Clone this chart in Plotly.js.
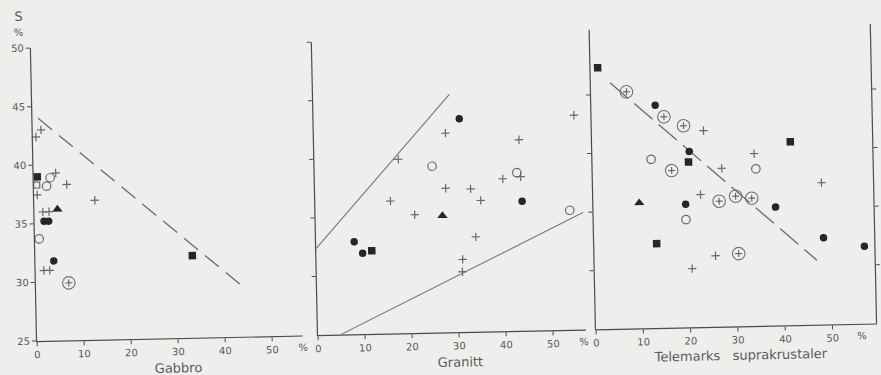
<!DOCTYPE html>
<html>
<head>
<meta charset="utf-8">
<script src="https://cdn.plot.ly/plotly-3.0.1.min.js"></script>
<style>
  html, body { margin: 0; padding: 0; background: #eeeeec; overflow: hidden; }
  #wrap { width: 881px; height: 375px; transform: rotate(-1.2deg); transform-origin: 440.5px 187.5px; }
  #plot { width: 881px; height: 375px; }
  #plot path { shape-rendering: geometricPrecision !important; }
</style>
</head>
<body>
<div id="wrap"><div id="plot"></div></div>
<script>
// ---------- DATA (x = mineral %, y = S %) ----------
// Panel 1: Gabbro
const gabFilledCircleX = [2.0, 3.0, 3.9];
const gabFilledCircleY = [35.2, 35.2, 31.8];
const gabFilledSquareX = [0.75, 33.4];
const gabFilledSquareY = [39.0, 32.0];
const gabTriangleX = [4.9];
const gabTriangleY = [36.2];
const gabOpenCircleX = [2.7, 3.5, 0.9];
const gabOpenCircleY = [38.2, 38.9, 33.7];
const gabOpenSquareX = [0.6];
const gabOpenSquareY = [38.3];
const gabPlusX = [0.65, 1.75, 0.67, 4.7, 7.0, 12.9, 1.8, 3.1, 1.75, 3.0];
const gabPlusY = [42.4, 43.0, 37.45, 39.3, 38.3, 36.9, 36.0, 36.0, 31.0, 31.0];
const gabCircledPlusX = [7.0];
const gabCircledPlusY = [29.9];
const gabDashX = [1.2, 44.8];
const gabDashY = [44.0, 29.0];

// Panel 2: Granitt
const graFilledCircleX = [31.0, 44.0, 8.1, 9.85];
const graFilledCircleY = [43.2, 36.05, 32.9, 31.9];
const graFilledSquareX = [11.8];
const graFilledSquareY = [32.1];
const graTriangleX = [27.0];
const graTriangleY = [34.96];
const graOpenCircleX = [25.0, 43.0, 54.1];
const graOpenCircleY = [39.2, 38.5, 35.2];
const graPlusX = [28.0, 43.6, 55.4, 17.85, 43.8, 40.0, 27.8, 33.1, 16.0, 35.2, 21.1, 34.0, 31.1, 31.0];
const graPlusY = [42.0, 41.3, 43.3, 39.85, 38.15, 38.0, 37.3, 37.2, 36.3, 36.2, 35.1, 33.1, 31.2, 30.15];
const graUpperLineX = [0, 29.0];
const graUpperLineY = [32.4, 45.3];
const graLowerLineX = [4.8, 57.0];
const graLowerLineY = [25.0, 35.0];

// Panel 3: Telemarks suprakrustaler
const telFilledCircleX = [13.5, 20.5, 19.5, 38.5, 48.5, 57.1];
const telFilledCircleY = [44.0, 40.0, 35.5, 35.1, 32.4, 31.6];
const telFilledSquareX = [1.5, 41.9, 20.3, 13.2];
const telFilledSquareY = [47.3, 40.65, 39.1, 32.2];
const telTriangleX = [9.7];
const telTriangleY = [35.7];
const telOpenCircleX = [12.4, 34.5, 19.5];
const telOpenCircleY = [39.4, 38.4, 34.2];
const telPlusX = [23.6, 34.2, 27.3, 48.3, 22.7, 25.6, 20.6];
const telPlusY = [41.75, 39.7, 38.5, 37.1, 36.3, 31.06, 30.0];
const telCircledPlusX = [7.5, 15.3, 19.4, 16.7, 30.1, 33.5, 26.6, 30.5];
const telCircledPlusY = [45.2, 43.0, 42.2, 38.4, 36.1, 35.9, 35.7, 31.2];
const telDashX = [4.05, 47.0];
const telDashY = [46.0, 30.5];

// Axis labels
const xTickVals = [0, 10, 20, 30, 40, 50];
const yTickVals = [25, 30, 35, 40, 45, 50];
const panelTitles = ["Gabbro", "Granitt", "Telemarks\u00a0\u00a0\u00a0suprakrustaler"];

// ---------- STYLES ----------
const BG = '#eeeeec';
const INK = '#262626';
const GREY = '#5a5a5a';
const FONT = 'DejaVu Sans, sans-serif';

function pts(x, y, xa, ya, kind) {
  const base = {x: x, y: y, xaxis: xa, yaxis: ya, mode: 'markers', type: 'scatter',
                hoverinfo: 'skip', showlegend: false, cliponaxis: false};
  const styles = {
    fc: {symbol: 'circle', size: 7.5, color: INK, line: {width: 0}},
    fs: {symbol: 'square', size: 7.5, color: INK, line: {width: 0}},
    tr: {symbol: 'triangle-up', size: 9, color: INK, line: {width: 0}},
    oc: {symbol: 'circle-open', size: 8.5, color: '#6a6a6a', line: {width: 1.2, color: '#6a6a6a'}},
    os: {symbol: 'square-open', size: 6, color: '#6a6a6a', line: {width: 1.2, color: '#6a6a6a'}},
    pl: {symbol: 'cross-thin-open', size: 6, color: '#666666', line: {width: 1.2, color: '#666666'}},
    cr: {symbol: 'circle-open', size: 12.5, color: '#707070', line: {width: 1.1, color: '#707070'}},
    cp: {symbol: 'cross-thin-open', size: 5, color: '#606060', line: {width: 1.1, color: '#606060'}}
  };
  base.marker = styles[kind];
  return base;
}
function line(x, y, xa, ya, dash, color, width) {
  return {x: x, y: y, xaxis: xa, yaxis: ya, mode: 'lines', type: 'scatter',
          hoverinfo: 'skip', showlegend: false, cliponaxis: false,
          line: {color: color, width: width, dash: dash}};
}

const traces = [
  // Gabbro
  line(gabDashX, gabDashY, 'x', 'y', '18px,9px', '#6a6a6a', 1.3),
  pts(gabPlusX, gabPlusY, 'x', 'y', 'pl'),
  pts(gabOpenCircleX, gabOpenCircleY, 'x', 'y', 'oc'),
  pts(gabOpenSquareX, gabOpenSquareY, 'x', 'y', 'os'),
  pts(gabCircledPlusX, gabCircledPlusY, 'x', 'y', 'cr'),
  pts(gabCircledPlusX, gabCircledPlusY, 'x', 'y', 'cp'),
  pts(gabFilledCircleX, gabFilledCircleY, 'x', 'y', 'fc'),
  pts(gabFilledSquareX, gabFilledSquareY, 'x', 'y', 'fs'),
  pts(gabTriangleX, gabTriangleY, 'x', 'y', 'tr'),
  // Granitt
  line(graUpperLineX, graUpperLineY, 'x2', 'y2', 'solid', '#777777', 1.1),
  line(graLowerLineX, graLowerLineY, 'x2', 'y2', 'solid', '#777777', 1.1),
  pts(graPlusX, graPlusY, 'x2', 'y2', 'pl'),
  pts(graOpenCircleX, graOpenCircleY, 'x2', 'y2', 'oc'),
  pts(graFilledCircleX, graFilledCircleY, 'x2', 'y2', 'fc'),
  pts(graFilledSquareX, graFilledSquareY, 'x2', 'y2', 'fs'),
  pts(graTriangleX, graTriangleY, 'x2', 'y2', 'tr'),
  // Telemark
  line(telDashX, telDashY, 'x3', 'y3', '24px,8px', '#6a6a6a', 1.3),
  pts(telPlusX, telPlusY, 'x3', 'y3', 'pl'),
  pts(telOpenCircleX, telOpenCircleY, 'x3', 'y3', 'oc'),
  pts(telCircledPlusX, telCircledPlusY, 'x3', 'y3', 'cr'),
  pts(telCircledPlusX, telCircledPlusY, 'x3', 'y3', 'cp'),
  pts(telFilledCircleX, telFilledCircleY, 'x3', 'y3', 'fc'),
  pts(telFilledSquareX, telFilledSquareY, 'x3', 'y3', 'fs'),
  pts(telTriangleX, telTriangleY, 'x3', 'y3', 'tr')
];

const W = 881, H = 375;
const axCommon = {
  showgrid: false, zeroline: false, showline: true, linecolor: '#4a4a4a', linewidth: 1.2,
  ticks: 'outside', ticklen: 4, tickwidth: 1, tickcolor: '#4a4a4a',
  tickfont: {family: FONT, size: 10, color: GREY}, fixedrange: true
};
function xa(left, range, anchor) {
  return Object.assign({}, axCommon, {
    domain: [left / W, (left + range * 4.7) / W], range: [0, range], anchor: anchor,
    tickmode: 'array', tickvals: xTickVals, ticktext: xTickVals.map(String)
  });
}
const yBottom = 42.5 / H;
const layout = {
  width: W, height: H, autosize: false,
  margin: {l: 0, r: 0, t: 0, b: 0},
  paper_bgcolor: BG, plot_bgcolor: BG,
  showlegend: false,
  xaxis: xa(34, 56.5, 'y'),
  xaxis2: xa(315, 57, 'y2'),
  xaxis3: Object.assign(xa(593, 59.2, 'y3'), {domain: [593 / W, 873 / W]}),
  yaxis: Object.assign({}, axCommon, {domain: [yBottom, 335.5 / H], range: [25, 50], anchor: 'x',
          tickmode: 'array', tickvals: yTickVals, ticktext: yTickVals.map(String)}),
  yaxis2: Object.assign({}, axCommon, {domain: [yBottom, 335.5 / H], range: [25, 50], anchor: 'x2',
          tickmode: 'array', tickvals: yTickVals.slice(1), showticklabels: false}),
  yaxis3: Object.assign({}, axCommon, {domain: [yBottom, 342 / H], range: [25, 50.55], anchor: 'x3',
          tickmode: 'array', tickvals: yTickVals.slice(1, 5), showticklabels: false, mirror: 'ticks'}),
  annotations: [
    {text: 'S', xref: 'paper', yref: 'paper', x: 21.6 / W, y: (H - 7) / H, showarrow: false,
     xanchor: 'center', yanchor: 'middle', font: {family: FONT, size: 13, color: GREY}},
    {text: '%', xref: 'paper', yref: 'paper', x: 22.2 / W, y: (H - 24) / H, showarrow: false,
     xanchor: 'center', yanchor: 'middle', font: {family: FONT, size: 10, color: GREY}},
    {text: '%', xref: 'x', yref: 'paper', x: 56.5, y: (H - 344.5) / H, showarrow: false,
     xanchor: 'center', yanchor: 'middle', font: {family: FONT, size: 10, color: GREY}},
    {text: '%', xref: 'x2', yref: 'paper', x: 56.5, y: (H - 344.5) / H, showarrow: false,
     xanchor: 'center', yanchor: 'middle', font: {family: FONT, size: 10, color: GREY}},
    {text: '%', xref: 'x3', yref: 'paper', x: 56.2, y: (H - 344.5) / H, showarrow: false,
     xanchor: 'center', yanchor: 'middle', font: {family: FONT, size: 10, color: GREY}},
    {text: panelTitles[0], xref: 'x', yref: 'paper', x: 30, y: (H - 362.5) / H, showarrow: false,
     xanchor: 'center', yanchor: 'middle', font: {family: FONT, size: 13, color: GREY}},
    {text: panelTitles[1], xref: 'x2', yref: 'paper', x: 30, y: (H - 362.5) / H, showarrow: false,
     xanchor: 'center', yanchor: 'middle', font: {family: FONT, size: 13, color: GREY}},
    {text: panelTitles[2], xref: 'x3', yref: 'paper', x: 30.5, y: (H - 361.5) / H, showarrow: false,
     xanchor: 'center', yanchor: 'middle', font: {family: FONT, size: 13, color: GREY}}
  ]
};

Plotly.newPlot('plot', traces, layout, {staticPlot: true, displayModeBar: false});
</script>
</body>
</html>
